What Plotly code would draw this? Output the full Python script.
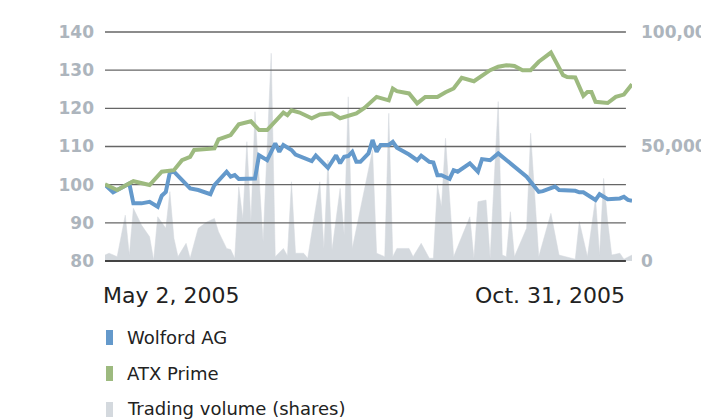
import plotly.graph_objects as go

# ---------------- data (trading-session index 0 = May 2, 2005 ... 130 = Oct 31, 2005)
wolford_session = [0, 2, 6, 7, 9, 11, 13, 14, 15, 16,
                   17, 21, 23, 26, 27, 30, 31, 32, 33, 37,
                   38, 40, 42, 43, 44, 46, 47, 51, 52, 54,
                   55, 57, 58, 59, 60, 61, 62, 63, 65, 66,
                   67, 68, 70, 71, 72, 75, 77, 78, 80, 81,
                   82, 83, 85, 86, 87, 90, 92, 93, 95, 97,
                   98, 100, 102, 104, 107, 108, 111, 112, 116, 117,
                   118, 121, 122, 124, 127, 128, 129, 130]
wolford_values = [100.0, 98.0, 100.3, 95.1, 95.1, 95.5, 94.2, 97.1, 98.1, 103.2,
                  103.4, 99.0, 98.6, 97.5, 99.9, 103.4, 102.1, 102.5, 101.5, 101.6,
                  107.7, 106.4, 110.8, 108.6, 110.4, 109.1, 107.9, 106.2, 107.6, 105.6,
                  104.4, 107.7, 105.6, 107.3, 107.5, 108.6, 106.0, 106.0, 108.2, 111.7,
                  108.6, 110.4, 110.4, 111.2, 109.7, 107.9, 106.4, 107.6, 106.0, 105.8,
                  102.5, 102.5, 101.5, 103.8, 103.4, 105.6, 103.4, 106.7, 106.4, 108.2,
                  107.3, 105.6, 103.8, 102.1, 98.1, 98.3, 99.5, 98.6, 98.4, 98.0,
                  98.0, 96.0, 97.5, 96.2, 96.4, 96.8, 96.0, 95.8]

atx_session = [0, 3, 7, 11, 14, 17, 19, 21, 22, 27,
               28, 31, 33, 36, 38, 40, 44, 45, 46, 48,
               51, 53, 56, 58, 62, 64, 67, 70, 71, 72,
               75, 77, 79, 82, 84, 86, 88, 91, 95, 97,
               99, 101, 103, 105, 107, 110, 113, 114, 116, 118,
               119, 120, 121, 124, 126, 128, 130]
atx_values = [100.1, 98.6, 100.9, 99.9, 103.4, 103.8, 106.4, 107.3, 109.1, 109.5,
              111.9, 113.0, 115.8, 116.6, 114.3, 114.3, 118.9, 118.2, 119.5, 118.9,
              117.4, 118.4, 118.7, 117.4, 118.7, 120.1, 123.0, 122.1, 125.2, 124.5,
              123.9, 121.3, 123.0, 123.0, 124.2, 125.2, 128.0, 127.1, 130.0, 130.9,
              131.3, 131.1, 130.0, 130.0, 132.2, 134.6, 128.7, 128.2, 128.1, 123.3,
              124.3, 124.3, 121.7, 121.4, 123.0, 123.6, 126.3]

volume_session = [0, 1, 3, 5, 6, 7, 9, 11, 12, 13,
                  15, 16, 17, 18, 20, 21, 23, 25, 27, 28,
                  30, 31, 32, 33, 34, 35, 36, 37, 39, 41,
                  42, 44, 45, 46, 47, 49, 50, 53, 54, 55,
                  56, 58, 59, 60, 61, 66, 67, 69, 70, 71,
                  72, 75, 76, 78, 80, 81, 82, 83, 84, 86,
                  90, 91, 92, 94, 95, 97, 98, 99, 100, 101,
                  104, 105, 107, 110, 112, 116, 117, 119, 121, 122,
                  123, 124, 125, 127, 128, 130]
volume_shares = [2600, 3400, 1900, 20000, 2600, 23000, 15700, 10600, 400, 19300,
                 14300, 30300, 9900, 1900, 7700, 1200, 14300, 16900, 18600, 12800,
                 5500, 5000, 1200, 32400, 18600, 52100, 17200, 65200, 8400, 90700,
                 1900, 5500, 2300, 34600, 3400, 3400, 1200, 34600, 5500, 44100,
                 4800, 31700, 11400, 71700, 5500, 48500, 3400, 1900, 64500, 1900,
                 5500, 5500, 1900, 7700, 1200, 1200, 33200, 23700, 53600, 1900,
                 19300, 1200, 25900, 26600, 1200, 69600, 2600, 1900, 21500, 1900,
                 14300, 55800, 1900, 20800, 2600, 800, 17200, 1900, 27400, 2600,
                 36100, 17200, 2600, 3400, 800, 2600]

price_ticks = [80, 90, 100, 110, 120, 130, 140]
volume_ticks = [0, 50000, 100000]
volume_ticktext = ["0", "50,000", "100,000"]
date_labels = ["May 2, 2005", "Oct. 31, 2005"]
legend_names = ["Wolford AG", "ATX Prime", "Trading volume (shares)"]

assert len(wolford_session) == len(wolford_values)
assert len(atx_session) == len(atx_values)
assert len(volume_session) == len(volume_shares)

# ---------------- style
BLUE = "#6499cb"
GREEN = "#9dba7f"
GREY = "#d4d9de"
TICK = "#adb5bd"
GRID = "#666666"
TEXT = "#222222"
FONT = "DejaVu Sans"

BODY = 8                                 # default page margin around the plot div
W_FIG, H_FIG = 709 - BODY, 419 - BODY
L, T, W, H = 105, 27, 527, 239           # plot area in window pixels
PAD = 5 / (229 / 60)                     # price units of padding above/below 80..140
price_range = [80 - PAD, 140 + PAD]
vol_range = [(r - 80) / 60 * 100000 for r in price_range]
X_END_GRID = 128.5                       # gridlines stop slightly before last session


def px(x):
    return (x - L) / W


def py(y):
    return (T + H - y) / H


def p2v(p):
    return (p - 80) / 60 * 100000


fig = go.Figure()

# volume area (base axis y, right side)
fig.add_trace(go.Scatter(
    x=volume_session, y=volume_shares, mode="lines", fill="tozeroy",
    fillcolor=GREY, line=dict(color=GREY, width=0.5), yaxis="y",
    hoverinfo="skip", showlegend=False))

# horizontal gridlines (over the area, under the price lines)
for p in price_ticks:
    fig.add_trace(go.Scatter(
        x=[0, X_END_GRID], y=[p2v(p), p2v(p)], mode="lines",
        line=dict(color="#444444" if p == 80 else GRID, width=2.2 if p == 80 else 1.4),
        yaxis="y", hoverinfo="skip", showlegend=False))

# price lines (overlay axis y2, left side)
fig.add_trace(go.Scatter(
    x=wolford_session, y=wolford_values, mode="lines",
    line=dict(color=BLUE, width=4, shape="linear"), yaxis="y2", showlegend=False))
fig.add_trace(go.Scatter(
    x=atx_session, y=atx_values, mode="lines",
    line=dict(color=GREEN, width=4, shape="linear"), yaxis="y2", showlegend=False))

tickfont = dict(family=FONT, size=17, color=TICK, weight="bold")

fig.update_layout(
    width=W_FIG, height=H_FIG,
    margin=dict(l=L - BODY, r=W_FIG - (L - BODY) - W, t=T - BODY,
                b=H_FIG - (T - BODY) - H, pad=0, autoexpand=False),
    paper_bgcolor="white", plot_bgcolor="white",
    showlegend=False,
    xaxis=dict(range=[0, 130], visible=False, fixedrange=True, automargin=False),
    yaxis=dict(range=vol_range, side="right", tickvals=volume_ticks, ticktext=volume_ticktext,
               showgrid=False, zeroline=False, showline=False, ticks="",
               tickfont=tickfont, ticklabelstandoff=8, automargin=False),
    yaxis2=dict(range=price_range, overlaying="y", side="left", tickvals=price_ticks,
                showgrid=False, zeroline=False, showline=False, ticks="",
                tickfont=tickfont, ticklabelstandoff=10, automargin=False),
)

annotations = [
    dict(text=date_labels[0], x=px(101), y=py(295), xref="paper", yref="paper",
         xanchor="left", yanchor="middle", showarrow=False,
         font=dict(family=FONT, size=22, color=TEXT)),
    dict(text=date_labels[1], x=px(627), y=py(295), xref="paper", yref="paper",
         xanchor="right", yanchor="middle", showarrow=False,
         font=dict(family=FONT, size=22, color=TEXT)),
]
shapes = []
rows = [337, 373, 409]
colors = [BLUE, GREEN, GREY]
for name, row, c in zip(legend_names, rows, colors):
    shapes.append(dict(type="rect", xref="paper", yref="paper",
                       x0=px(106), x1=px(113), y0=py(row + 8), y1=py(row - 7),
                       fillcolor=c, line=dict(width=0)))
    annotations.append(dict(text=name, x=px(125), y=py(row), xref="paper", yref="paper",
                            xanchor="left", yanchor="middle", showarrow=False,
                            font=dict(family=FONT, size=18, color=TEXT)))

fig.update_layout(annotations=annotations, shapes=shapes)

fig.write_html("out.html")
